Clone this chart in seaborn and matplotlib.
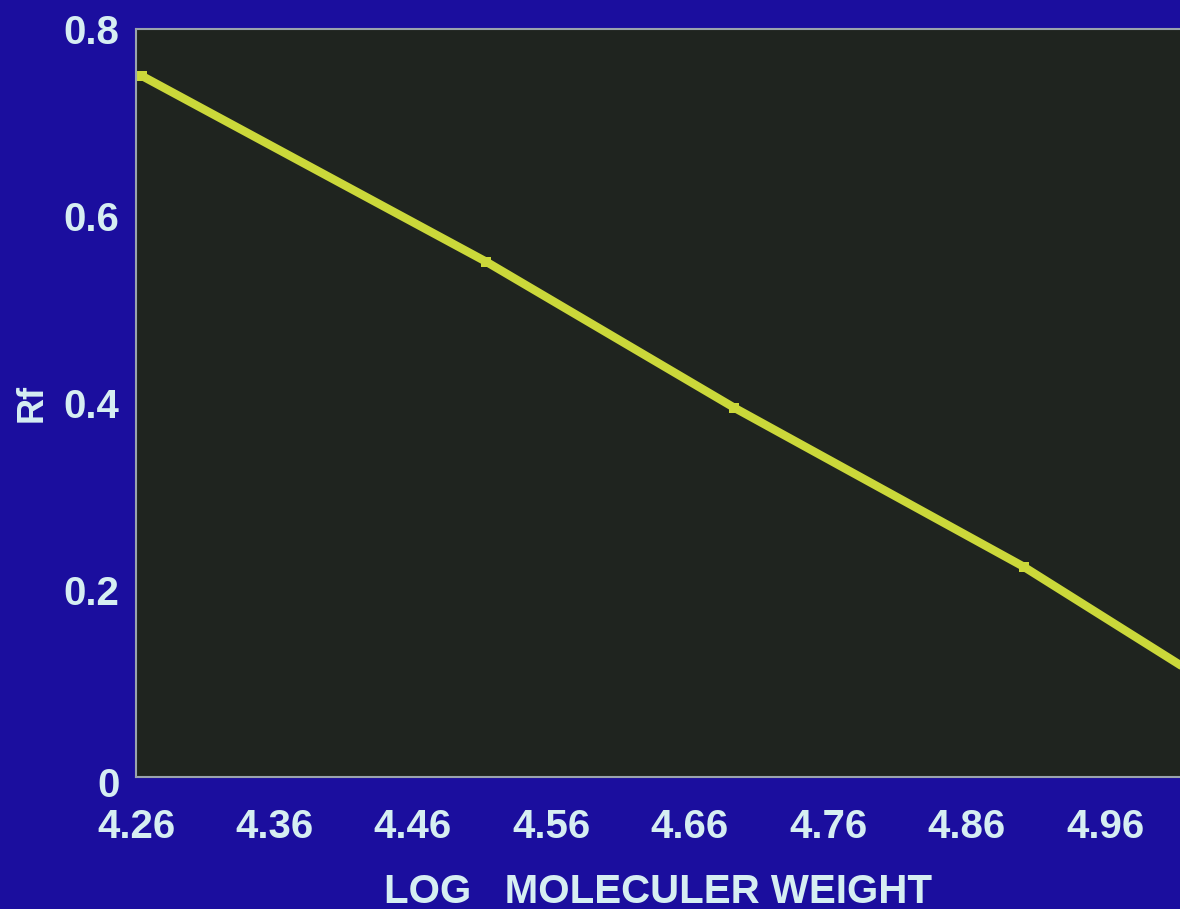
import matplotlib
matplotlib.use("Agg")
import matplotlib.pyplot as plt
import matplotlib.transforms as mtransforms
import seaborn as sns
import pandas as pd

# Data
log_mw = [4.264, 4.513, 4.692, 4.901, 5.03]
rf = [0.750, 0.551, 0.395, 0.225, 0.105]
x_ticks = [4.26, 4.36, 4.46, 4.56, 4.66, 4.76, 4.86, 4.96]
x_tick_labels = ["4.26", "4.36", "4.46", "4.56", "4.66", "4.76", "4.86", "4.96"]
y_ticks = [0, 0.2, 0.4, 0.6, 0.8]
y_tick_labels = ["0", "0.2", "0.4", "0.6", "0.8"]

sns.set_style("dark")
plt.rcParams['font.family'] = ['Liberation Sans', 'DejaVu Sans']

bg = "#1b0e9e"
plot_bg = "#1f241f"
txt = "#d6eef2"
line_col = "#cbd83a"

fig = plt.figure(figsize=(11.8, 9.09), dpi=100, facecolor=bg)
ax = fig.add_axes([0.1153, 0.1452, 1.0 - 0.1153, 0.8229])
ax.set_facecolor(plot_bg)

df = pd.DataFrame({"log_mw": log_mw, "rf": rf})
sns.lineplot(data=df, x="log_mw", y="rf", ax=ax, color=line_col, linewidth=6,
             marker="s", markersize=7, markeredgewidth=0, markerfacecolor=line_col)

ax.set_xlim(4.2636, 5.014)
ax.set_ylim(0, 0.8)

ax.set_xticks(x_ticks)
ax.set_xticklabels(x_tick_labels)
ax.set_yticks(y_ticks)
ax.set_yticklabels(y_tick_labels)
ax.tick_params(axis="both", length=0, colors=txt, labelsize=29)
ax.tick_params(axis="x", pad=22)
ax.tick_params(axis="y", pad=12)
for lab in ax.get_xticklabels() + ax.get_yticklabels():
    lab.set_fontweight("bold")
# the "0" label sits a little below the axis bottom in the reference
zero_lab = ax.get_yticklabels()[0]
zero_lab.set_transform(zero_lab.get_transform() +
                       mtransforms.ScaledTranslation(0, -5 / 100, fig.dpi_scale_trans))
ax.grid(False)

ax.set_xlabel("LOG   MOLECULER WEIGHT", color=txt, fontsize=29, fontweight="bold", labelpad=20)
ax.set_ylabel("Rf", color=txt, fontsize=26, fontweight="bold", labelpad=10)

for side in ["left", "top", "bottom"]:
    ax.spines[side].set_visible(True)
    ax.spines[side].set_color("#9aa3ad")
    ax.spines[side].set_linewidth(1.5)
ax.spines["right"].set_visible(False)

fig.savefig("out.png", dpi=100, facecolor=bg)
